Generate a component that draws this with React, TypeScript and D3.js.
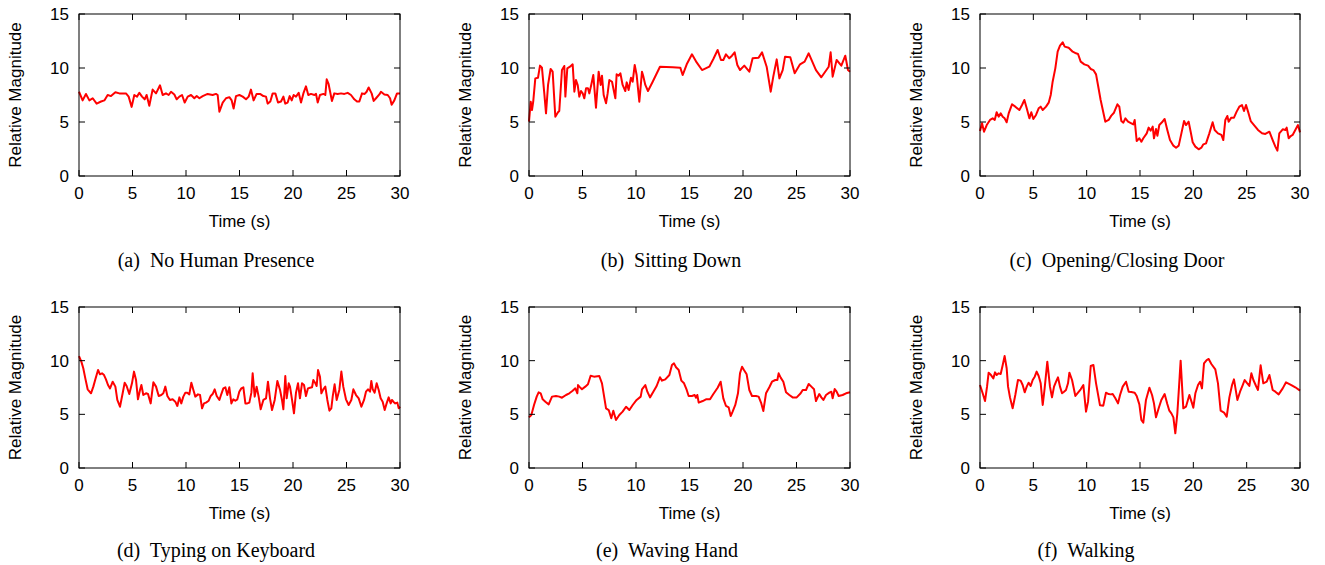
import React from 'react';
import * as d3 from 'd3';

const timeTicks = [0, 5, 10, 15, 20, 25, 30];
const magTicks = [0, 5, 10, 15];

// [time (s), relative magnitude]
const noHuman: [number, number][] = [
  [0, 7.8], [0.34, 7.0], [0.65, 7.6], [0.97, 7.0], [1.28, 7.2], [1.65, 6.7], [2.06, 6.9], [2.37, 7.0], [2.68, 7.5], [2.99, 7.4],
  [3.4, 7.75], [3.77, 7.65], [4.39, 7.65], [4.64, 7.35], [4.92, 6.4], [5.17, 7.5], [5.42, 7.35], [5.64, 7.7], [5.89, 7.35], [6.14, 7.1],
  [6.32, 7.5], [6.57, 6.5], [6.88, 8.0], [7.2, 7.65], [7.57, 8.4], [7.82, 7.5], [8.13, 7.65], [8.38, 7.5], [8.6, 7.8], [8.91, 7.55],
  [9.13, 7.1], [9.38, 7.35], [9.63, 7.5], [9.88, 6.8], [10.16, 7.35], [10.47, 7.5], [10.78, 7.2], [11.0, 7.4], [11.25, 7.2], [11.56, 7.4],
  [12.02, 7.6], [12.49, 7.5], [12.8, 7.6], [12.96, 7.5], [13.12, 5.95], [13.43, 6.8], [13.74, 7.2], [14.05, 7.3], [14.27, 7.0], [14.45, 6.25],
  [14.67, 7.4], [14.99, 7.5], [15.3, 7.35], [15.61, 7.1], [15.86, 7.35], [16.07, 8.0], [16.32, 7.0], [16.6, 7.6], [16.92, 7.6], [17.23, 7.4],
  [17.48, 7.35], [17.63, 6.7], [17.88, 6.9], [18.1, 7.65], [18.35, 7.65], [18.6, 6.8], [18.88, 6.9], [19.1, 7.35], [19.28, 6.7], [19.5, 6.8],
  [19.69, 7.4], [19.88, 7.0], [20.06, 7.5], [20.28, 7.35], [20.53, 7.7], [20.75, 6.8], [20.97, 7.65], [21.21, 8.3], [21.43, 7.5], [21.68, 7.6],
  [22.0, 7.5], [22.15, 7.6], [22.31, 6.8], [22.52, 7.5], [22.84, 7.6], [23.02, 7.5], [23.15, 8.95], [23.33, 8.5], [23.64, 6.95], [23.86, 7.65],
  [24.17, 7.6], [24.49, 7.65], [24.8, 7.6], [25.11, 7.7], [25.42, 7.5], [25.73, 7.1], [25.98, 6.9], [26.2, 6.9], [26.45, 7.65], [26.7, 7.6],
  [26.88, 7.8], [27.07, 8.2], [27.35, 7.65], [27.54, 6.95], [27.76, 7.2], [28.07, 7.55], [28.22, 7.8], [28.54, 7.55], [28.85, 7.5], [29.07, 7.2],
  [29.22, 6.6], [29.47, 7.0], [29.72, 7.65], [30, 7.65],
];

const sittingDown: [number, number][] = [
  [0, 5.03], [0.16, 6.88], [0.28, 6.11], [0.4, 6.94], [0.59, 9.04], [0.84, 9.1], [1.03, 10.22], [1.21, 10.03], [1.43, 7.65], [1.59, 5.8],
  [1.78, 8.43], [2.02, 9.91], [2.21, 9.66], [2.46, 5.49], [2.71, 5.9], [2.83, 6.02], [3.08, 9.81], [3.3, 10.19], [3.4, 7.35], [3.58, 9.97],
  [3.83, 10.12], [4.08, 10.34], [4.24, 7.81], [4.39, 8.89], [4.55, 8.43], [4.7, 7.35], [4.86, 7.87], [5.02, 7.65], [5.17, 7.19], [5.33, 8.12],
  [5.51, 8.12], [5.64, 7.65], [5.83, 8.49], [6.01, 9.35], [6.26, 6.33], [6.51, 9.66], [6.7, 8.43], [6.82, 9.29], [6.98, 7.5], [7.2, 6.73],
  [7.35, 7.65], [7.51, 8.89], [7.76, 8.73], [7.88, 8.12], [8.07, 7.19], [8.19, 9.41], [8.38, 9.29], [8.54, 9.51], [8.75, 8.43], [9.0, 7.87],
  [9.13, 8.67], [9.31, 7.96], [9.53, 9.1], [9.69, 8.73], [9.88, 10.28], [10.06, 9.35], [10.31, 6.88], [10.56, 9.66], [10.69, 9.2], [10.87, 8.43],
  [11.12, 7.87], [11.56, 8.73], [12.24, 10.12], [13.43, 10.06], [14.14, 10.03], [14.36, 9.35], [14.74, 10.34], [15.23, 11.27], [15.67, 10.52], [16.17, 9.81],
  [16.85, 10.12], [17.23, 10.83], [17.63, 11.67], [17.94, 10.74], [18.16, 10.74], [18.41, 11.27], [18.72, 10.9], [18.97, 11.14], [19.22, 11.45], [19.47, 10.28],
  [19.72, 9.81], [20.12, 10.22], [20.59, 9.66], [20.9, 10.9], [21.46, 10.96], [21.78, 11.45], [22.21, 10.12], [22.59, 7.81], [22.83, 9.2], [23.15, 10.8],
  [23.4, 9.04], [23.71, 9.81], [23.93, 11.05], [24.42, 10.99], [24.83, 9.51], [25.33, 10.34], [25.76, 10.59], [26.14, 11.36], [26.82, 9.81], [27.32, 9.14],
  [28.01, 10.12], [28.19, 11.45], [28.38, 9.2], [28.75, 10.74], [29.19, 10.22], [29.56, 11.14], [29.81, 9.81], [30, 9.66],
];

const door: [number, number][] = [
  [0, 4.17], [0.19, 4.88], [0.38, 4.1], [0.63, 4.72], [0.94, 5.19], [1.19, 5.34], [1.38, 5.19], [1.56, 5.9], [1.75, 5.49], [1.94, 5.8],
  [2.13, 5.49], [2.31, 5.34], [2.5, 4.97], [2.69, 5.8], [3.0, 6.64], [3.31, 6.42], [3.69, 6.11], [3.94, 6.57], [4.16, 7.04], [4.38, 6.27],
  [4.63, 5.34], [4.81, 5.9], [5.0, 5.28], [5.25, 5.65], [5.5, 6.27], [5.69, 6.42], [5.88, 6.11], [6.19, 6.42], [6.44, 6.79], [6.63, 7.5],
  [6.81, 8.73], [7.06, 9.97], [7.28, 11.51], [7.5, 12.07], [7.75, 12.38], [7.94, 11.98], [8.31, 11.88], [8.69, 11.51], [9.0, 11.36], [9.19, 11.3],
  [9.44, 10.59], [9.78, 10.34], [10.13, 10.22], [10.38, 9.91], [10.63, 9.81], [10.88, 9.41], [11.06, 8.43], [11.31, 7.04], [11.75, 5.03], [12.06, 5.19],
  [12.31, 5.59], [12.56, 5.86], [12.88, 6.64], [13.06, 6.42], [13.25, 5.09], [13.44, 4.94], [13.63, 5.34], [13.88, 5.03], [14.19, 4.88], [14.38, 4.78],
  [14.5, 5.19], [14.69, 3.24], [14.94, 3.49], [15.13, 3.18], [15.31, 3.49], [15.63, 3.95], [15.81, 4.48], [16.0, 4.2], [16.19, 4.57], [16.31, 3.49],
  [16.5, 4.35], [16.63, 3.73], [16.81, 4.72], [17.06, 4.97], [17.31, 5.28], [17.56, 4.26], [17.81, 3.33], [18.13, 2.81], [18.38, 2.62], [18.63, 2.81],
  [18.88, 3.95], [19.13, 5.09], [19.31, 4.72], [19.56, 5.03], [19.75, 4.1], [19.94, 3.12], [20.19, 2.72], [20.5, 2.47], [20.75, 2.62], [20.94, 2.93],
  [21.19, 3.02], [21.5, 3.95], [21.81, 4.97], [22.0, 4.26], [22.31, 3.95], [22.63, 3.8], [22.81, 3.33], [23.0, 5.19], [23.19, 5.56], [23.31, 5.03],
  [23.56, 5.4], [23.81, 5.4], [24.06, 5.96], [24.31, 6.42], [24.56, 6.57], [24.75, 6.02], [24.94, 6.57], [25.13, 5.96], [25.38, 5.09], [25.69, 4.72],
  [26.06, 4.26], [26.44, 3.95], [26.75, 3.89], [27.13, 4.1], [27.44, 3.33], [27.69, 2.72], [27.88, 2.35], [28.06, 3.95], [28.38, 4.32], [28.63, 4.26],
  [28.75, 4.48], [28.94, 3.49], [29.13, 3.7], [29.31, 3.8], [29.56, 4.26], [29.81, 4.72], [30, 4.04],
];

const typing: [number, number][] = [
  [0, 10.43], [0.22, 9.91], [0.4, 9.29], [0.59, 8.35], [0.81, 7.33], [1.12, 6.96], [1.34, 7.58], [1.53, 8.26], [1.78, 9.13], [1.96, 8.73],
  [2.15, 8.82], [2.34, 8.66], [2.52, 8.26], [2.71, 7.73], [2.9, 7.42], [3.15, 8.04], [3.4, 7.58], [3.58, 6.34], [3.83, 5.71], [4.08, 6.96],
  [4.27, 7.95], [4.45, 7.64], [4.7, 6.89], [4.95, 7.89], [5.14, 8.98], [5.33, 8.2], [5.51, 6.4], [5.7, 7.27], [5.83, 7.73], [6.01, 6.8],
  [6.26, 6.96], [6.45, 6.89], [6.7, 6.02], [6.95, 7.98], [7.2, 7.58], [7.45, 6.71], [7.69, 6.8], [7.88, 6.96], [8.07, 7.58], [8.26, 6.71],
  [8.5, 6.34], [8.75, 6.4], [9.0, 6.18], [9.19, 5.78], [9.38, 6.58], [9.56, 6.02], [9.75, 6.65], [9.94, 7.02], [10.12, 7.02], [10.31, 6.86],
  [10.5, 7.95], [10.69, 7.27], [10.87, 6.65], [11.12, 6.86], [11.31, 6.8], [11.5, 5.56], [11.68, 6.02], [11.87, 6.09], [12.12, 6.27], [12.31, 6.71],
  [12.49, 6.89], [12.68, 7.33], [12.87, 6.71], [13.12, 6.34], [13.3, 6.89], [13.49, 7.42], [13.68, 7.52], [13.86, 6.8], [14.05, 7.52], [14.24, 6.02],
  [14.42, 6.4], [14.61, 6.27], [14.8, 6.4], [14.98, 7.11], [15.17, 7.42], [15.36, 7.52], [15.55, 6.02], [15.73, 6.02], [15.92, 6.09], [16.11, 7.02],
  [16.23, 8.82], [16.42, 6.65], [16.6, 7.58], [16.79, 6.65], [16.98, 5.47], [17.23, 6.34], [17.48, 6.49], [17.66, 8.04], [17.85, 6.49], [18.04, 5.4],
  [18.29, 6.34], [18.54, 8.11], [18.79, 7.27], [18.97, 6.34], [19.1, 5.47], [19.28, 8.57], [19.41, 6.49], [19.6, 7.89], [19.72, 7.58], [19.91, 6.34],
  [20.09, 5.09], [20.28, 7.02], [20.47, 7.89], [20.65, 6.49], [20.84, 7.89], [21.03, 7.73], [21.21, 6.71], [21.4, 7.42], [21.59, 7.48], [21.78, 7.52],
  [21.9, 8.2], [22.09, 7.89], [22.21, 7.64], [22.34, 9.13], [22.52, 8.51], [22.65, 6.96], [22.83, 7.33], [23.02, 7.58], [23.21, 6.34], [23.4, 5.34],
  [23.58, 5.56], [23.71, 6.65], [23.89, 7.8], [24.08, 6.34], [24.33, 7.27], [24.52, 8.98], [24.7, 7.58], [24.95, 6.4], [25.2, 5.87], [25.45, 6.34],
  [25.64, 7.33], [25.89, 6.8], [26.14, 6.49], [26.39, 5.71], [26.64, 6.34], [26.82, 7.11], [27.01, 7.33], [27.2, 7.11], [27.32, 8.11], [27.45, 7.33],
  [27.63, 7.02], [27.82, 7.89], [28.01, 7.27], [28.19, 6.49], [28.38, 6.18], [28.57, 5.4], [28.75, 6.02], [28.94, 6.58], [29.13, 6.02], [29.25, 6.34],
  [29.38, 6.18], [29.56, 6.02], [29.75, 6.09], [29.88, 5.56], [30, 5.71],
];

const waving: [number, number][] = [
  [0, 4.72], [0.22, 4.94], [0.47, 5.87], [0.72, 6.65], [0.9, 7.05], [1.09, 6.96], [1.28, 6.4], [1.53, 6.18], [1.84, 5.93], [2.15, 6.65],
  [2.52, 6.71], [2.83, 6.65], [3.08, 6.55], [3.46, 6.8], [3.77, 6.96], [4.08, 7.2], [4.33, 7.42], [4.52, 6.96], [4.58, 7.73], [4.7, 7.58],
  [4.95, 7.33], [5.26, 7.58], [5.51, 7.8], [5.76, 8.6], [6.07, 8.51], [6.57, 8.57], [6.82, 7.89], [7.2, 5.56], [7.45, 5.4], [7.69, 4.63],
  [7.88, 5.34], [8.13, 4.47], [8.44, 4.94], [8.75, 5.25], [9.07, 5.71], [9.38, 5.4], [9.69, 5.87], [10.06, 6.34], [10.44, 6.65], [10.56, 7.33],
  [10.87, 7.73], [11.06, 7.11], [11.31, 6.58], [11.62, 7.11], [11.93, 7.64], [12.24, 8.45], [12.43, 8.14], [12.74, 8.26], [13.12, 8.66], [13.36, 9.6],
  [13.55, 9.75], [13.74, 9.38], [13.99, 9.13], [14.24, 8.14], [14.49, 7.89], [14.74, 7.27], [14.92, 6.71], [15.23, 6.71], [15.48, 6.8], [15.61, 6.55],
  [15.73, 6.8], [15.86, 6.09], [16.23, 6.24], [16.54, 6.4], [16.92, 6.4], [17.23, 6.89], [17.63, 7.48], [17.91, 8.04], [18.16, 6.49], [18.41, 5.78],
  [18.66, 5.65], [18.85, 4.84], [19.03, 5.25], [19.28, 5.87], [19.53, 6.96], [19.72, 8.82], [19.91, 9.44], [20.09, 9.13], [20.34, 8.73], [20.59, 7.27],
  [20.84, 6.71], [21.21, 6.71], [21.46, 6.65], [21.71, 6.02], [21.9, 5.31], [22.15, 6.96], [22.46, 7.52], [22.71, 8.04], [23.02, 8.2], [23.21, 8.2],
  [23.33, 8.82], [23.52, 8.42], [23.77, 8.04], [24.02, 7.05], [24.33, 6.8], [24.64, 6.58], [25.02, 6.58], [25.39, 6.96], [25.58, 7.27], [25.89, 7.27],
  [26.14, 7.83], [26.39, 7.58], [26.64, 7.33], [26.82, 6.24], [27.01, 6.65], [27.13, 6.89], [27.32, 6.58], [27.51, 6.34], [27.76, 6.8], [28.07, 7.02],
  [28.26, 7.11], [28.38, 6.49], [28.57, 7.36], [28.75, 7.11], [28.94, 6.71], [29.31, 6.8], [29.63, 6.96], [30, 7.05],
];

const walking: [number, number][] = [
  [0, 7.73], [0.25, 6.96], [0.47, 6.24], [0.66, 7.58], [0.81, 8.88], [1.03, 8.66], [1.25, 8.35], [1.41, 8.91], [1.56, 8.66], [1.75, 8.82],
  [1.94, 8.76], [2.13, 9.6], [2.31, 10.43], [2.5, 9.29], [2.63, 7.58], [2.81, 6.58], [3.06, 5.56], [3.31, 6.8], [3.56, 8.2], [3.81, 8.14],
  [4.0, 7.73], [4.19, 7.05], [4.38, 7.58], [4.56, 7.95], [4.75, 7.64], [4.94, 8.2], [5.13, 8.51], [5.31, 8.98], [5.5, 8.57], [5.69, 7.89],
  [5.88, 5.87], [6.06, 7.42], [6.31, 9.91], [6.56, 7.58], [6.75, 6.58], [6.94, 7.58], [7.13, 8.04], [7.31, 8.45], [7.5, 7.58], [7.69, 6.96],
  [7.88, 7.11], [8.06, 7.27], [8.25, 7.89], [8.38, 8.88], [8.63, 8.2], [8.94, 6.71], [9.19, 7.02], [9.44, 7.33], [9.69, 7.73], [9.94, 5.25],
  [10.13, 6.18], [10.38, 9.5], [10.63, 9.6], [10.88, 7.89], [11.25, 5.84], [11.56, 5.81], [11.81, 7.02], [12.06, 6.89], [12.25, 6.86], [12.44, 6.89],
  [12.69, 6.49], [12.94, 6.02], [13.13, 6.8], [13.38, 7.58], [13.69, 8.04], [13.94, 7.11], [14.19, 7.08], [14.5, 7.02], [14.69, 6.71], [14.94, 5.93],
  [15.13, 4.47], [15.31, 4.22], [15.56, 6.34], [15.88, 7.48], [16.13, 6.8], [16.31, 6.02], [16.5, 4.72], [16.75, 5.56], [17.0, 6.34], [17.31, 6.89],
  [17.56, 5.96], [17.75, 5.34], [17.94, 5.09], [18.13, 4.72], [18.31, 3.23], [18.5, 5.09], [18.63, 7.11], [18.81, 10.0], [19.06, 5.56], [19.31, 5.71],
  [19.63, 6.8], [19.88, 6.02], [20.0, 5.62], [20.19, 6.96], [20.44, 7.73], [20.63, 8.04], [20.81, 7.42], [21.0, 9.75], [21.25, 10.06], [21.44, 10.16],
  [21.69, 9.69], [22.06, 9.19], [22.31, 7.89], [22.56, 5.34], [22.88, 5.16], [23.13, 4.78], [23.38, 6.58], [23.63, 7.73], [23.81, 8.26], [24.13, 6.34],
  [24.38, 7.11], [24.63, 7.73], [24.81, 8.2], [25.0, 7.95], [25.25, 7.64], [25.44, 8.82], [25.63, 8.2], [25.88, 7.64], [26.06, 7.27], [26.31, 9.57],
  [26.56, 7.89], [26.88, 8.04], [27.13, 8.66], [27.44, 7.27], [27.69, 7.11], [28.0, 6.86], [28.38, 7.42], [28.69, 7.98], [29.19, 7.73], [29.56, 7.52],
  [30, 7.21],
];

const panels = [
  { id: 'a', caption: '(a)  No Human Presence', data: noHuman, x0: 79, x1: 400, y0: 14, y1: 176, capX: 216, capY: 266.5 },
  { id: 'b', caption: '(b)  Sitting Down', data: sittingDown, x0: 529, x1: 850, y0: 14, y1: 176, capX: 671, capY: 266.5 },
  { id: 'c', caption: '(c)  Opening/Closing Door', data: door, x0: 980, x1: 1300, y0: 14, y1: 176, capX: 1117, capY: 266.5 },
  { id: 'd', caption: '(d)  Typing on Keyboard', data: typing, x0: 79, x1: 400, y0: 307, y1: 468, capX: 216, capY: 556.5 },
  { id: 'e', caption: '(e)  Waving Hand', data: waving, x0: 529, x1: 850, y0: 307, y1: 468, capX: 667, capY: 556.5 },
  { id: 'f', caption: '(f)  Walking', data: walking, x0: 980, x1: 1300, y0: 307, y1: 468, capX: 1086, capY: 556.5 },
];

const sans = '"Liberation Sans", Arial, Helvetica, sans-serif';
const serif = '"Liberation Serif", "Times New Roman", serif';

function Panel({ p }: { p: typeof panels[number] }) {
  const x = d3.scaleLinear().domain([0, 30]).range([p.x0, p.x1]);
  const y = d3.scaleLinear().domain([0, 15]).range([p.y1, p.y0]);
  const line = d3.line<[number, number]>().x(d => x(d[0])).y(d => y(d[1]));
  const tk = 6;
  return (
    <g>
      <path d={line(p.data) || ''} fill="none" stroke="#ff0000" strokeWidth={2} strokeLinejoin="round" />
      {/* ticks on all four sides, pointing inward */}
      {timeTicks.map(t => (
        <g key={'x' + t}>
          <line x1={x(t)} x2={x(t)} y1={p.y1} y2={p.y1 - tk} stroke="#000" />
          <line x1={x(t)} x2={x(t)} y1={p.y0} y2={p.y0 + tk} stroke="#000" />
          <text x={x(t)} y={p.y1 + 23} textAnchor="middle" fontSize={17} fontFamily={sans}>{t}</text>
        </g>
      ))}
      {magTicks.map(v => (
        <g key={'y' + v}>
          <line x1={p.x0} x2={p.x0 + tk} y1={y(v)} y2={y(v)} stroke="#000" />
          <line x1={p.x1} x2={p.x1 - tk} y1={y(v)} y2={y(v)} stroke="#000" />
          <text x={p.x0 - 10} y={y(v)} dy="0.36em" textAnchor="end" fontSize={17} fontFamily={sans}>{v}</text>
        </g>
      ))}
      <rect x={p.x0} y={p.y0} width={p.x1 - p.x0} height={p.y1 - p.y0} fill="none" stroke="#000" />
      <text x={(p.x0 + p.x1) / 2} y={p.y1 + 50.5} textAnchor="middle" fontSize={17} fontFamily={sans}>Time (s)</text>
      <text transform={`translate(${p.x0 - 58},${(p.y0 + p.y1) / 2}) rotate(-90)`} textAnchor="middle" fontSize={17} fontFamily={sans}>Relative Magnitude</text>
      <text x={p.capX} y={p.capY} textAnchor="middle" fontSize={20} fontFamily={serif} style={{ whiteSpace: 'pre' }}>{p.caption}</text>
    </g>
  );
}

export default function App() {
  return (
    <svg width={1325} height={565} style={{ position: 'absolute', left: 0, top: 0, background: '#fff' }}>
      {panels.map(p => <Panel key={p.id} p={p} />)}
    </svg>
  );
}
